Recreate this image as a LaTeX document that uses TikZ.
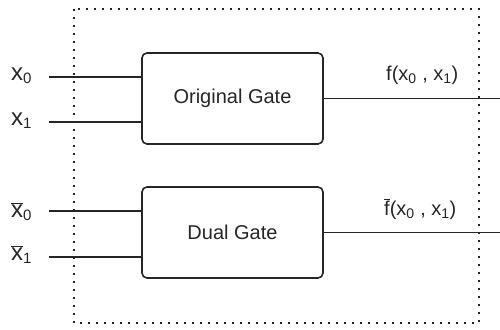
\documentclass[tikz,border=0pt]{standalone}
\usepackage{fontspec}
\setmainfont{Liberation Sans}
\newcommand\ovbar[1]{\ensuremath{\overline{\hbox{#1}}}}
\newcommand\sbs[1]{\textsubscript{\fontsize{15}{16}\selectfont #1}}
\definecolor{ink}{HTML}{262626}
\tikzset{
  gate/.style={draw=ink, line width=1.6pt, rounded corners=5pt, minimum width=181pt, minimum height=91pt, inner sep=0pt, font=\fontsize{20}{22}\selectfont, text=ink},
  wire/.style={draw=ink, line width=1.7pt},
  lbl/.style={inner sep=0pt, anchor=base west, text=ink, font=\fontsize{24}{26}\selectfont},
  flbl/.style={inner sep=0pt, anchor=base west, text=ink, font=\fontsize{20}{22}\selectfont},
  frame/.style={draw=ink, line width=1.6pt, dash pattern=on 1.6pt off 6.4pt}
}
\begin{document}
\begin{tikzpicture}[x=1pt,y=-1pt]
\useasboundingbox (0,0) rectangle (500,329);
\draw[frame] (74,9) rectangle (479,323);
\node[gate] (og) at (232.5,98.5) {Original Gate};
\node[gate] (dg) at (232.5,232.5) {Dual Gate};
% input coordinates
\coordinate (a0) at (49,77);
\coordinate (a1) at (49,122);
\coordinate (b0) at (49,211);
\coordinate (b1) at (49,257);
\coordinate (fo) at (500,98.5);
\coordinate (go) at (500,232.5);
\draw[wire] (a0) -- (a0 -| og.west);
\draw[wire] (a1) -- (a1 -| og.west);
\draw[wire] (og.east) -- (fo);
\draw[wire] (b0) -- (b0 -| dg.west);
\draw[wire] (b1) -- (b1 -| dg.west);
\draw[wire] (dg.east) -- (go);
% labels
\node[lbl] (la0) at (11,80) {x\sbs{0}};
\node[lbl] (la1) at (11,125) {x\sbs{1}};
\node[lbl] (lb0) at (11,217) {\ovbar{x}\sbs{0}};
\node[lbl] (lb1) at (11,260) {\ovbar{x}\sbs{1}};
\node[flbl] (lf) at (386,80) {f(x\textsubscript{0} , x\textsubscript{1})};
\node[flbl] (lg) at (384,215) {\ovbar{f}(x\textsubscript{0} , x\textsubscript{1})};
\end{tikzpicture}
\end{document}
